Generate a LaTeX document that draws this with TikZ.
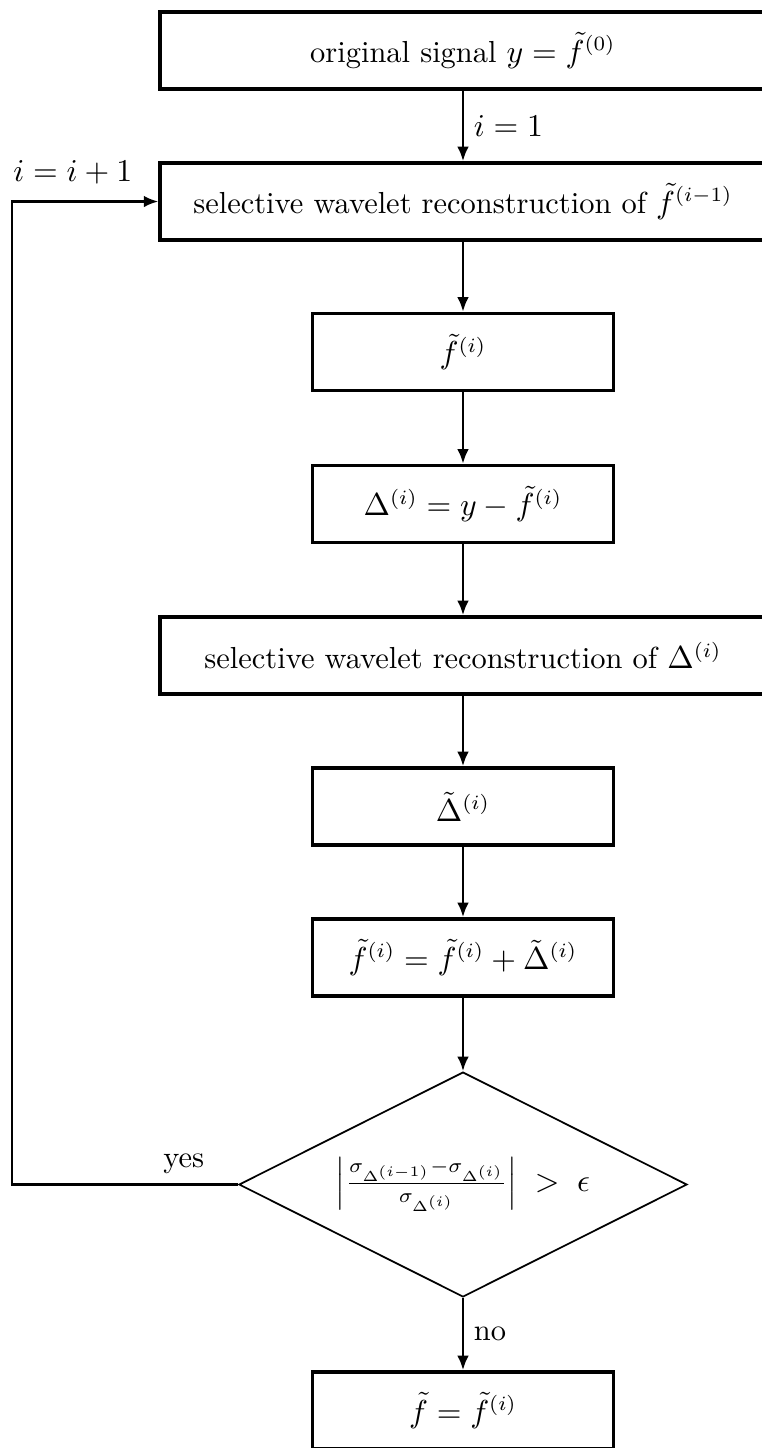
\documentclass[tikz,border=0pt]{standalone}
\usetikzlibrary{arrows.meta,shapes.geometric}

\begin{document}
\begin{tikzpicture}[
  x=0.345pt,
  y=-0.345pt,
  font=\fontsize{10.5}{12.6}\selectfont,
  block/.style={
    draw,
    very thick,
    minimum height=26.6pt,
    inner sep=0pt
  },
  wide block/.style={
    block,
    minimum width=209pt
  },
  small block/.style={
    block,
    minimum width=104pt
  },
  decision/.style={
    draw,
    semithick,
    diamond,
    aspect=2,
    minimum width=154.6pt,
    minimum height=77.6pt,
    inner sep=0pt
  },
  flow/.style={
    line width=0.9pt,
    -{Latex[length=5pt,width=4pt]}
  },
]
\useasboundingbox (0,0) rectangle (762,1448);

\node[wide block] (orig) at (463,50.5) {original signal $y=\tilde{f}^{(0)}$};
\node[wide block] (recf) at (463,201.5) {selective wavelet reconstruction of $\tilde{f}^{(i-1)}$};
\node[small block] (fi) at (463,352) {$\tilde{f}^{(i)}$};
\node[small block] (delta) at (463,504) {$\Delta^{(i)}=y-\tilde{f}^{(i)}$};
\node[wide block] (recd) at (463,655.5) {selective wavelet reconstruction of $\Delta^{(i)}$};
\node[small block] (dtil) at (463,806.5) {$\tilde{\Delta}^{(i)}$};
\node[small block] (upd) at (463,957.5) {$\tilde{f}^{(i)}=\tilde{f}^{(i)}+\tilde{\Delta}^{(i)}$};
\node[decision] (test) at (463,1184.5)
  {$\left|\frac{\sigma_{\Delta^{(i-1)}}-\sigma_{\Delta^{(i)}}}{\sigma_{\Delta^{(i)}}}\right|\;>\;\epsilon$};
\node[small block] (final) at (463,1410.5) {$\tilde{f}=\tilde{f}^{(i)}$};
\coordinate (back) at (12,0);

\draw[flow] (orig) -- node[right]{$i=1$} (recf);
\foreach \a/\b in {recf/fi, fi/delta, delta/recd, recd/dtil, dtil/upd, upd/test}
  \draw[flow] (\a) -- (\b);
\draw[flow] (test) -- node[right]{no} (final);
\draw[flow] (test.west) -- node[pos=0.24,above]{yes} (test.west -| back)
  |- node[pos=0.5,anchor=south west,inner sep=0pt,yshift=5.5pt]{$i=i+1$} (recf.west);
\end{tikzpicture}
\end{document}
